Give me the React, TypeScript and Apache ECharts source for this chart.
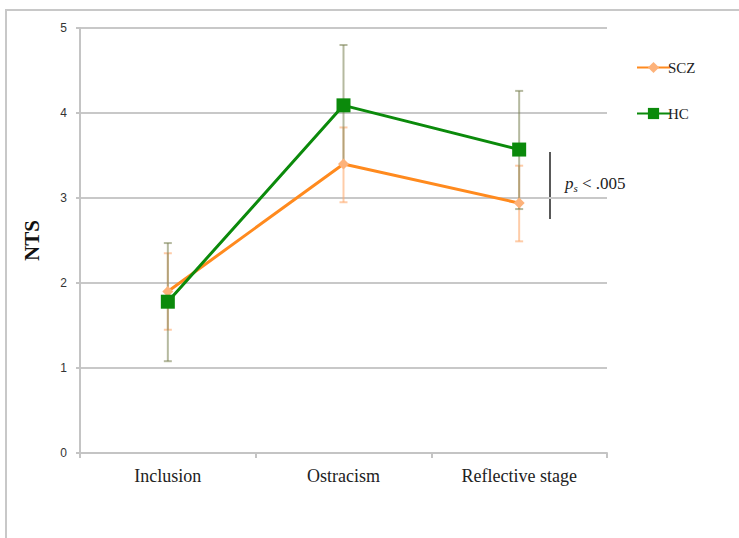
import React, { useEffect, useRef } from "react";
import * as echarts from "echarts";

const categories = ["Inclusion", "Ostracism", "Reflective stage"];
const sczMean = [1.9, 3.4, 2.94];
const sczLow = [1.45, 2.95, 2.49];
const sczHigh = [2.35, 3.83, 3.38];
const hcMean = [1.78, 4.09, 3.57];
const hcLow = [1.08, 3.39, 2.87];
const hcHigh = [2.47, 4.8, 4.26];

const SCZ_LINE = "#ff8a1e";
const SCZ_MARK = "#fdb27a";
const SCZ_ERR = "rgba(253,170,110,0.6)";
const HC_LINE = "#0b8a0b";
const HC_ERR = "rgba(120,128,80,0.55)";
const SERIF = "'Liberation Serif', 'DejaVu Serif', serif";

function errSeries(name: string, low: number[], high: number[], color: string) {
  return {
    type: "custom",
    name,
    z: 1,
    silent: true,
    data: categories.map((_, i) => [i, low[i], high[i]]),
    renderItem: (params: any, api: any) => {
      const x = api.value(0);
      const pLo = api.coord([x, api.value(1)]);
      const pHi = api.coord([x, api.value(2)]);
      const c = 4;
      const st = { stroke: color, lineWidth: 2 };
      return {
        type: "group",
        children: [
          { type: "line", shape: { x1: pLo[0], y1: pLo[1], x2: pHi[0], y2: pHi[1] }, style: st },
          { type: "line", shape: { x1: pLo[0] - c, y1: pLo[1], x2: pLo[0] + c, y2: pLo[1] }, style: st },
          { type: "line", shape: { x1: pHi[0] - c, y1: pHi[1], x2: pHi[0] + c, y2: pHi[1] }, style: st },
        ],
      };
    },
  };
}

export default function App() {
  const ref = useRef<HTMLDivElement>(null);
  useEffect(() => {
    if (!ref.current) return;
    const chart = echarts.init(ref.current, null, { renderer: "svg" });
    chart.setOption({
      animation: false,
      backgroundColor: "#ffffff",
      textStyle: { fontFamily: SERIF },
      grid: { left: 80, right: 132, top: 28, bottom: 85 },
      legend: {
        data: ["SCZ", "HC"],
        orient: "vertical",
        left: 631,
        top: 55,
        itemWidth: 33,
        itemHeight: 14,
        itemGap: 31,
        textStyle: {
          fontFamily: SERIF,
          fontSize: 15,
          color: "#222",
          lineHeight: 14,
          padding: [0, 0, 0, -7],
        },
      },
      xAxis: {
        type: "category",
        data: categories,
        boundaryGap: true,
        axisLine: { lineStyle: { color: "#c4c4c4", width: 2 } },
        axisTick: { show: true, length: 5, lineStyle: { color: "#c4c4c4", width: 2 } },
        axisLabel: {
          fontFamily: SERIF,
          fontSize: 18,
          color: "#222",
          margin: 14,
        },
      },
      yAxis: {
        type: "value",
        min: 0,
        max: 5,
        interval: 1,
        name: "NTS",
        nameLocation: "middle",
        nameGap: 38,
        nameRotate: 90,
        nameTextStyle: {
          fontFamily: SERIF,
          fontWeight: "bold",
          fontSize: 21,
          color: "#111",
        },
        axisLine: { show: true, lineStyle: { color: "#c4c4c4", width: 2 } },
        axisTick: { show: true, length: 4, lineStyle: { color: "#c4c4c4", width: 2 } },
        axisLabel: {
          fontFamily: "'Liberation Sans', sans-serif",
          fontSize: 12,
          color: "#333",
          margin: 13,
        },
        splitLine: { lineStyle: { color: "#c8c8c8", width: 2 } },
      },
      series: [
        errSeries("SCZ err", sczLow, sczHigh, SCZ_ERR),
        errSeries("HC err", hcLow, hcHigh, HC_ERR),
        {
          type: "line",
          name: "SCZ",
          data: sczMean,
          z: 3,
          symbol: "diamond",
          symbolSize: 11,
          lineStyle: { color: SCZ_LINE, width: 3 },
          itemStyle: { color: SCZ_MARK },
        },
        {
          type: "line",
          name: "HC",
          data: hcMean,
          z: 4,
          symbol: "rect",
          symbolSize: 14,
          lineStyle: { color: HC_LINE, width: 3 },
          itemStyle: { color: HC_LINE },
        },
      ],
      graphic: [
        {
          type: "polyline",
          silent: true,
          shape: { points: [[6, 538], [6, 10], [739, 10]] },
          style: { stroke: "#c8c8c8", lineWidth: 2, fill: "none" },
        },
        {
          type: "line",
          shape: { x1: 550, y1: 152, x2: 550, y2: 219 },
          style: { stroke: "#222", lineWidth: 1.5 },
        },
        {
          type: "text",
          x: 565,
          y: 183,
          style: {
            text: "{i|p}{s|s}{n| < .005}",
            verticalAlign: "middle",
            rich: {
              i: { fontFamily: SERIF, fontStyle: "italic", fontSize: 17, fill: "#222" },
              s: { fontFamily: SERIF, fontStyle: "italic", fontSize: 11, fill: "#222", padding: [9, 0, 0, 0] },
              n: { fontFamily: SERIF, fontSize: 17, fill: "#222" },
            },
          },
        },
      ],
    });
    return () => chart.dispose();
  }, []);
  return (
    <div
      ref={ref}
      style={{ position: "absolute", left: 0, top: 0, width: 739, height: 538 }}
    />
  );
}
